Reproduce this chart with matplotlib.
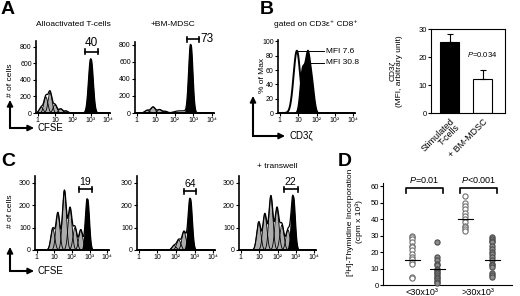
import numpy as np
import matplotlib
matplotlib.use("Agg")
import matplotlib.pyplot as plt

plt.rcParams['font.family'] = ['Liberation Sans', 'DejaVu Sans']
plt.rcParams['mathtext.fontset'] = 'custom'
plt.rcParams['mathtext.it'] = 'Liberation Sans:italic'
plt.rcParams['mathtext.rm'] = 'Liberation Sans'

# ---------------- data ----------------
log_ticks = [0, 1, 2, 3, 4]
log_ticklabels = ["1", "10", "10²", "10³", "10⁴"]

# Panel A (log10 CFSE positions, heights, widths)
a1_gray_c = [0.2, 0.46, 0.7, 0.98, 1.3, 1.6]
a1_gray_h = [70, 195, 250, 100, 50, 25]
a1_gray_w = [0.11, 0.11, 0.11, 0.11, 0.11, 0.11]
a1_black = (3.0, 655, 0.12)
a1_bracket = (2.7, 3.4, 740, "40")

a2_gray_c = [0.55, 0.86, 1.2, 1.5]
a2_gray_h = [32, 70, 40, 20]
a2_gray_w = [0.12, 0.12, 0.12, 0.12]
a2_extra_c = [2.1, 2.45]
a2_extra_h = [18, 22]
a2_black = (2.85, 800, 0.1)
a2_bracket = (2.67, 3.3, 860, "73")

# Panel B histogram
b_open = (0.93, 87, 0.18)
b_black_c = [1.2, 1.5, 1.75]
b_black_h = [55, 82, 32]
b_black_w = [0.12, 0.14, 0.12]
b_mfi_labels = ["MFI 7.6", "MFI 30.8"]
b_mfi_y = [86, 70]
b_mfi_x0 = [1.0, 1.68]

# Panel B bars
bar_labels = ["Stimulated\nT-cells", "+ BM-MDSC"]
bar_values = [25.5, 12.0]
bar_errors = [2.7, 3.5]
bar_colors = ["black", "white"]
bar_p = "=0.034"

# Panel C
c1_gray_c = [0.91, 1.2, 1.57, 1.89, 2.17, 2.5]
c1_gray_h = [95, 165, 265, 185, 100, 90]
c2_gray_c = [1.9, 2.15, 2.43]
c2_gray_h = [20, 45, 82]
c3_gray_c = [0.98, 1.31, 1.64, 1.97, 2.24, 2.57]
c3_gray_h = [125, 160, 240, 185, 112, 90]
c1_black = (2.86, 228, 0.1)
c2_black = (2.75, 230, 0.1)
c3_black = (2.84, 240, 0.1)
c1_bracket = (2.4, 3.14, 270, "19")
c2_bracket = (2.43, 3.1, 262, "64")
c3_bracket = (2.35, 3.1, 270, "22")

# Panel D
d_groups = ["<30x10³", ">30x10³"]
d_open1 = [30, 29, 28, 26, 24, 23, 21, 19, 17, 16, 14, 13, 5, 4]
d_gray1 = [26, 17, 15, 13, 12, 10, 9, 8, 7, 6, 5, 4, 3, 2, 1]
d_open2 = [54, 50, 48, 46, 44, 42, 40, 38, 36, 35, 34, 33]
d_gray2 = [29, 28, 27, 26, 24, 22, 20, 19, 17, 15, 13, 12, 11, 7, 6, 5]
d_means = [15.5, 10, 40, 15.5]
d_pvals = ["=0.01", "<0.001"]

# ---------------- figure ----------------
W, H = 520, 296
fig = plt.figure(figsize=(W / 100, H / 100), dpi=100)


def ax_px(l, t, r, b):
    return fig.add_axes([l / W, 1 - b / H, (r - l) / W, (b - t) / H])


GRAY = "#acacac"
TFS = 5
grid = np.linspace(-0.1, 4.1, 800)


def gauss(c, h, w):
    return h * np.exp(-0.5 * ((grid - c) / w) ** 2)


def style_hist(ax, ymax, yticks):
    ax.set_xlim(-0.1, 4.1)
    ax.set_ylim(0, ymax)
    ax.set_xticks(log_ticks)
    ax.set_xticklabels(log_ticklabels)
    ax.set_yticks(yticks)
    for s in ["top", "right"]:
        ax.spines[s].set_visible(False)
    for s in ["left", "bottom"]:
        ax.spines[s].set_linewidth(1.2)
    ax.tick_params(labelsize=TFS, length=2, width=0.8, pad=1)
    ax.patch.set_alpha(0)


def cfse_hist(ax, gc, gh, gw, black, extra_c=(), extra_h=()):
    comps = [gauss(c, h, w) for c, h, w in zip(gc, gh, gw)]
    blk = gauss(*black)
    env = np.sum(comps, axis=0) * 0.85 + np.max(comps, axis=0) * 0.15 + blk
    for c, h in zip(extra_c, extra_h):
        env = env + gauss(c, h, 0.18)
    ax.fill_between(grid, env, color="white", zorder=1)
    ax.plot(grid, env, color="black", lw=0.9, zorder=4)
    for comp in comps:
        ax.fill_between(grid, comp, color=GRAY, lw=0, zorder=2)
        ax.plot(grid, comp, color="black", lw=0.6, zorder=3)
    ax.fill_between(grid, blk, color="black", zorder=5)


def bracket(ax, spec, ymax, side="top", fs=8.5):
    x0, x1, y, txt = spec
    tick = ymax * 0.035
    ax.plot([x0, x1], [y, y], color="black", lw=1.2, clip_on=False)
    ax.plot([x0, x0], [y - tick, y + tick], color="black", lw=1.2, clip_on=False)
    ax.plot([x1, x1], [y - tick, y + tick], color="black", lw=1.2, clip_on=False)
    if side == "top":
        ax.text((x0 + x1) / 2, y + tick * 0.9, txt, ha="center", va="bottom",
                fontsize=fs, clip_on=False)
    else:
        ax.text(x1 + 0.05, y, txt, ha="left", va="center", fontsize=fs, clip_on=False)


# Panel A
axA1 = ax_px(36, 41, 110, 113)
cfse_hist(axA1, a1_gray_c, a1_gray_h, a1_gray_w, a1_black)
style_hist(axA1, 870, [0, 200, 400, 600, 800])
bracket(axA1, a1_bracket, 870)

axA2 = ax_px(135, 42, 214, 113)
cfse_hist(axA2, a2_gray_c, a2_gray_h, a2_gray_w, a2_black, a2_extra_c, a2_extra_h)
style_hist(axA2, 830, [0, 200, 400, 600, 800])
bracket(axA2, a2_bracket, 830, side="right")

# Panel B histogram
axB = ax_px(278, 40, 355, 113)
oc, oh, ow = b_open
open_curve = gauss(oc, oh, ow)
axB.fill_between(grid, open_curve, color="white", zorder=1)
black_curve = np.sum([gauss(c, h, w) for c, h, w in zip(b_black_c, b_black_h, b_black_w)], axis=0)
axB.fill_between(grid, black_curve, color="black", zorder=2)
axB.plot(grid, open_curve, color="black", lw=1.4, zorder=3)
style_hist(axB, 102, [0, 20, 40, 60, 80, 100])
for lab, y, x0 in zip(b_mfi_labels, b_mfi_y, b_mfi_x0):
    axB.plot([x0, 2.4], [y, y], color="black", lw=0.7, zorder=4)
    axB.text(2.5, y, lab, fontsize=6, va="center", ha="left")

# Panel B bar
axBar = ax_px(431, 29, 505, 113)
xb = np.arange(len(bar_values))
axBar.bar(xb, bar_values, width=0.58, color=bar_colors, edgecolor="black", lw=0.8)
axBar.errorbar(xb, bar_values, yerr=[[0] * len(bar_errors), bar_errors], fmt="none",
               ecolor="black", elinewidth=0.8, capsize=2, capthick=0.8)
axBar.set_xlim(-0.56, 1.68)
axBar.set_ylim(0, 30)
axBar.set_yticks([0, 10, 20, 30])
axBar.set_xticks(xb)
axBar.set_xticklabels(bar_labels, rotation=45, ha="right", rotation_mode="anchor",
                      fontsize=6.5, linespacing=0.9)
axBar.tick_params(axis="y", labelsize=5.5, length=2, width=0.8, pad=1)
axBar.tick_params(axis="x", length=0, pad=3)
for s in axBar.spines.values():
    s.set_linewidth(0.8)
axBar.text(1.0, 21, r"$P$" + bar_p, fontsize=5.5, ha="center", va="center")

# Panel C
axC1 = ax_px(35, 176, 109, 250)
cfse_hist(axC1, c1_gray_c, c1_gray_h, [0.11] * len(c1_gray_c), c1_black)
style_hist(axC1, 330, [0, 100, 200, 300])
bracket(axC1, c1_bracket, 330, fs=7.5)

axC2 = ax_px(137, 176, 215, 250)
cfse_hist(axC2, c2_gray_c, c2_gray_h, [0.11] * len(c2_gray_c), c2_black)
style_hist(axC2, 330, [0, 100, 200, 300])
bracket(axC2, c2_bracket, 330, fs=7.5)

axC3 = ax_px(239, 176, 316, 250)
cfse_hist(axC3, c3_gray_c, c3_gray_h, [0.11] * len(c3_gray_c), c3_black)
style_hist(axC3, 330, [0, 100, 200, 300])
bracket(axC3, c3_bracket, 330, fs=7.5)

# Panel D
axD = ax_px(383, 183, 512, 285)
xpos = [0, 1, 2.12, 3.2]
series = [d_open1, d_gray1, d_open2, d_gray2]
for i, (xp, vals) in enumerate(zip(xpos, series)):
    if i % 2 == 0:
        axD.scatter([xp] * len(vals), vals, s=14, facecolor="white", edgecolor="#6e6e6e",
                    lw=0.8, zorder=3, clip_on=False)
    else:
        axD.scatter([xp] * len(vals), vals, s=14, facecolor="#8c8c8c", edgecolor="#4a4a4a",
                    lw=0.8, zorder=3, clip_on=False)
    axD.plot([xp - 0.3, xp + 0.3], [d_means[i], d_means[i]], color="black", lw=0.8, zorder=4)
axD.set_xlim(-1.16, 4.0)
axD.set_ylim(0, 62)
axD.set_yticks([0, 10, 20, 30, 40, 50, 60])
axD.set_xticks([0.4, 2.62])
axD.set_xticklabels(d_groups, fontsize=6.5)
axD.tick_params(axis="y", labelsize=5.5, length=2, width=0.8, pad=1)
axD.tick_params(axis="x", length=0, pad=2)
for s in ["top", "right"]:
    axD.spines[s].set_visible(False)
for s in ["left", "bottom"]:
    axD.spines[s].set_linewidth(0.8)
axD.patch.set_alpha(0)
for (x0, x1), pv in zip([(-0.24, 1.24), (1.92, 3.4)], d_pvals):
    axD.plot([x0, x0, x1, x1], [55.8, 58.8, 58.8, 55.8], color="black", lw=1.2, clip_on=False)
    axD.text((x0 + x1) / 2, 60.5, r"$P$" + pv, fontsize=6.5, ha="center", va="bottom")

# ---------------- overlay: labels, arrows ----------------
ov = fig.add_axes([0, 0, 1, 1], zorder=-1)
ov.set_xlim(0, W)
ov.set_ylim(H, 0)
ov.axis("off")

for x, y, t in [(1, 1, "A"), (260, 1, "B"), (1, 153, "C"), (338, 153, "D")]:
    ov.text(x, y, t, fontsize=14, fontweight="bold", ha="left", va="top")

ov.text(73, 24, "Alloactivated T-cells", fontsize=6, ha="center", va="center")
ov.text(173, 24, "+BM-MDSC", fontsize=6, ha="center", va="center")
ov.text(316, 24, "gated on CD3ε⁺ CD8⁺", fontsize=6, ha="center", va="center")
ov.text(277, 166, "+ transwell", fontsize=6, ha="center", va="center")

ov.text(11, 80, "# of cells", fontsize=6, rotation=90, ha="center", va="center")
ov.text(11, 211, "# of cells", fontsize=6, rotation=90, ha="center", va="center")
ov.text(262, 75, "% of Max", fontsize=6, rotation=90, ha="center", va="center")
ov.text(396, 71, "CD3ζ\n(MFI, arbitrary unit)", fontsize=6, rotation=90,
        ha="center", va="center", multialignment="center", linespacing=1.1)
ov.text(355, 222, "[³H]-Thymidine Incorporation\n(cpm x 10³)", fontsize=6, rotation=90,
        ha="center", va="center", multialignment="center", linespacing=1.2)


def corner_arrow(x, y, up_tip, right_tip, label):
    ov.plot([x, x], [y, up_tip + 4], color="black", lw=1.5, solid_capstyle="butt")
    ov.plot([x - 0.7, right_tip - 4], [y, y], color="black", lw=1.5, solid_capstyle="butt")
    ov.annotate("", xy=(x, up_tip), xytext=(x, up_tip + 5),
                arrowprops=dict(arrowstyle="-|>", color="black", lw=1.2,
                                mutation_scale=9, shrinkA=0, shrinkB=0))
    ov.annotate("", xy=(right_tip, y), xytext=(right_tip - 5, y),
                arrowprops=dict(arrowstyle="-|>", color="black", lw=1.2,
                                mutation_scale=9, shrinkA=0, shrinkB=0))
    ov.text(right_tip + 4, y, label, fontsize=7, ha="left", va="center")


corner_arrow(10, 128, 100, 34, "CFSE")
corner_arrow(253, 136, 96, 285, "CD3ζ")
corner_arrow(10, 271, 247, 34, "CFSE")

fig.savefig("out.png", dpi=100)
